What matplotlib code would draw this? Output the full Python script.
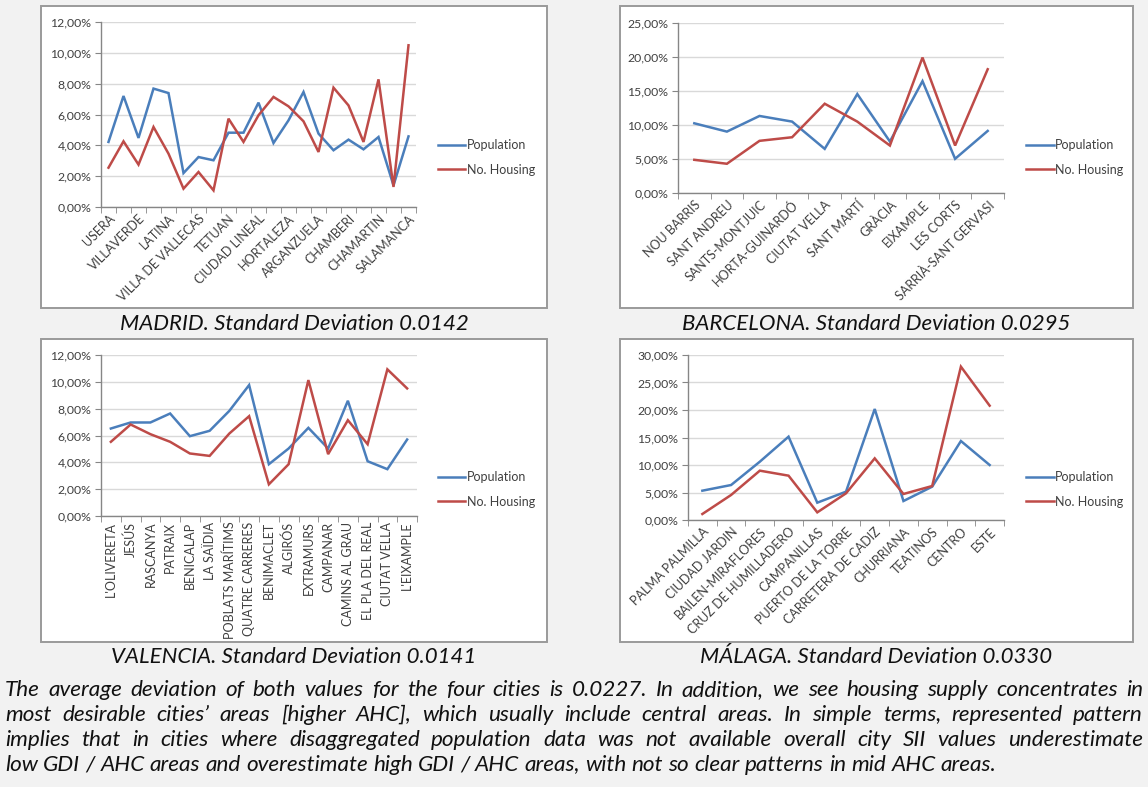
import matplotlib
matplotlib.use("Agg")
import matplotlib.pyplot as plt
from matplotlib.patches import Rectangle
from matplotlib.ticker import FuncFormatter, FixedLocator

W, H = 1148, 787
BG = '#f2f2f2'
BLUE = '#4a7ebb'
RED = '#be4b48'
TXT = '#404040'
AXC = '#868686'
GRID = '#d9d9d9'
FONT = ['Lato', 'DejaVu Sans']

# Madrid: 21 districts, only every other one is labelled on the axis
madrid_labels = ['USERA', 'VILLAVERDE', 'LATINA', 'VILLA DE VALLECAS', 'TETUAN',
                 'CIUDAD LINEAL', 'HORTALEZA', 'ARGANZUELA', 'CHAMBERI',
                 'CHAMARTIN', 'SALAMANCA']
madrid_pop = [4.22, 7.20, 4.48, 7.68, 7.39, 2.20, 3.24, 3.03, 4.82, 4.82, 6.77,
              4.15, 5.62, 7.46, 4.76, 3.68, 4.37, 3.74, 4.54, 1.40, 4.58]
madrid_housing = [2.55, 4.26, 2.75, 5.19, 3.46, 1.19, 2.27, 1.08, 5.73, 4.22, 5.95,
                  7.14, 6.53, 5.56, 3.57, 7.74, 6.59, 4.22, 8.28, 1.30, 10.49]

barcelona_labels = ['NOU BARRIS', 'SANT ANDREU', 'SANTS-MONTJUIC', 'HORTA-GUINARDÓ',
                    'CIUTAT VELLA', 'SANT MARTÍ', 'GRÀCIA', 'EIXAMPLE', 'LES CORTS',
                    'SARRIÀ-SANT GERVASI']
barcelona_pop = [10.25, 9.03, 11.33, 10.50, 6.49, 14.55, 7.57, 16.45, 5.03, 9.13]
barcelona_housing = [4.88, 4.30, 7.67, 8.20, 13.13, 10.50, 6.98, 19.92, 6.98, 18.20]

valencia_labels = ["L'OLIVERETA", 'JESÚS', 'RASCANYA', 'PATRAIX', 'BENICALAP',
                   'LA SAÏDIA', 'POBLATS MARÍTIMS', 'QUATRE CARRERES', 'BENIMACLET',
                   'ALGIRÓS', 'EXTRAMURS', 'CAMPANAR', 'CAMINS AL GRAU',
                   'EL PLA DEL REAL', 'CIUTAT VELLA', "L'EIXAMPLE"]
valencia_pop = [6.52, 6.97, 6.97, 7.64, 5.95, 6.35, 7.84, 9.76, 3.86, 5.03, 6.57,
                5.03, 8.59, 4.08, 3.49, 5.70]
valencia_housing = [5.53, 6.82, 6.10, 5.53, 4.66, 4.48, 6.15, 7.44, 2.36, 3.86, 10.13,
                    4.61, 7.14, 5.35, 10.93, 9.51]

malaga_labels = ['PALMA PALMILLA', 'CIUDAD JARDIN', 'BAILEN-MIRAFLORES',
                 'CRUZ DE HUMILLADERO', 'CAMPANILLAS', 'PUERTO DE LA TORRE',
                 'CARRETERA DE CADIZ', 'CHURRIANA', 'TEATINOS', 'CENTRO', 'ESTE']
malaga_pop = [5.33, 6.36, 10.60, 15.15, 3.15, 5.15, 20.18, 3.45, 6.06, 14.36, 10.00]
malaga_housing = [1.09, 4.55, 8.97, 8.06, 1.39, 4.85, 11.21, 4.73, 6.18, 27.88, 20.79]

captions = ['MADRID. Standard Deviation 0.0142', 'BARCELONA. Standard Deviation 0.0295',
            'VALENCIA. Standard Deviation 0.0141', 'MÁLAGA. Standard Deviation 0.0330']

paragraph = [
    "The average deviation of both values for the four cities is 0.0227. In addition, we see housing supply concentrates in",
    "most desirable cities’ areas [higher AHC], which usually include central areas. In simple terms, represented pattern",
    "implies that in cities where disaggregated population data was not available overall city SII values underestimate",
    "low GDI / AHC areas and overestimate high GDI / AHC areas, with not so clear patterns in mid AHC areas.",
]


def px_rect(x0, y0, x1, y1):
    # pixel box (top-left origin) -> figure fraction [left, bottom, width, height]
    return [x0 / W, 1 - y1 / H, (x1 - x0) / W, (y1 - y0) / H]


def pct(v, _):
    return f"{v:.2f}%".replace('.', ',')


def draw_panel(fig, rect, pop, housing, labels, label_idx, ymax, ystep, rot, legend_xy):
    ax = fig.add_axes(px_rect(*rect))
    ax.set_zorder(2)
    n = len(pop)
    xs = list(range(n))
    ax.plot(xs, pop, color=BLUE, lw=1.8, label='Population', solid_joinstyle='miter')
    ax.plot(xs, housing, color=RED, lw=1.8, label='No. Housing', solid_joinstyle='miter')

    ax.set_xlim(-0.5, n - 0.5)
    ax.set_ylim(0, ymax)
    ax.set_yticks([ystep * i for i in range(int(round(ymax / ystep)) + 1)])
    ax.yaxis.set_major_formatter(FuncFormatter(pct))
    ax.grid(axis='y', color=GRID, lw=1)
    ax.set_axisbelow(True)

    for s in ('top', 'right'):
        ax.spines[s].set_visible(False)
    for s in ('left', 'bottom'):
        ax.spines[s].set_color(AXC)
        ax.spines[s].set_linewidth(1)

    ax.set_xticks(label_idx)
    ax.xaxis.set_minor_locator(FixedLocator([i - 0.5 for i in range(n + 1)]))
    ax.tick_params(axis='x', which='major', length=0, pad=4)
    ax.tick_params(axis='x', which='minor', length=4, color=AXC, direction='out')
    ax.tick_params(axis='y', length=4, color=AXC, direction='out', pad=3,
                   labelsize=8.8, labelcolor=TXT)
    for t in ax.get_yticklabels():
        t.set_family(FONT)

    if rot == 90:
        ax.set_xticklabels(labels, rotation=90, ha='center', va='top',
                           fontsize=9, color=TXT, family=FONT)
    else:
        ax.set_xticklabels(labels, rotation=rot, ha='right', va='top',
                           rotation_mode='anchor', fontsize=9, color=TXT, family=FONT)

    lx, ly = legend_xy
    ax.legend(loc='upper left', bbox_to_anchor=(lx / W, 1 - ly / H),
              bbox_transform=fig.transFigure, frameon=False, borderpad=0,
              borderaxespad=0, handlelength=2.2, handletextpad=0.15,
              labelspacing=1.0, prop={'family': FONT, 'size': 9},
              labelcolor=TXT)
    return ax


def justify(fig, line, x0, x1, y, last=False, **kw):
    words = line.split(' ')
    renderer = fig.canvas.get_renderer()
    texts = [fig.text(0, 1 - y / H, w, va='center', ha='left', **kw) for w in words]
    widths = [t.get_window_extent(renderer).width for t in texts]
    probe = fig.text(0, 0, 'a b', **kw)
    sp = probe.get_window_extent(renderer).width
    probe.set_text('ab')
    sp -= probe.get_window_extent(renderer).width
    probe.remove()
    gap = sp if last else (x1 - x0 - sum(widths)) / (len(words) - 1)
    x = x0
    for t, w in zip(texts, widths):
        t.set_x(x / W)
        x += w + gap


fig = plt.figure(figsize=(W / 100, H / 100), dpi=100, facecolor=BG)

# white chart frames
frames = [(41, 6, 547, 308), (620, 6, 1133, 308), (41, 339, 547, 642), (620, 339, 1133, 642)]
for x0, y0, x1, y1 in frames:
    fig.patches.append(Rectangle((x0 / W, 1 - y1 / H), (x1 - x0) / W, (y1 - y0) / H,
                                 transform=fig.transFigure, facecolor='white',
                                 edgecolor='#9a9a9a', lw=1.4, zorder=-1))

draw_panel(fig, (101, 22, 416, 207), madrid_pop, madrid_housing, madrid_labels,
           list(range(0, len(madrid_pop), 2)), 12, 2, 45, (438, 139))
draw_panel(fig, (678, 23, 1004, 193), barcelona_pop, barcelona_housing, barcelona_labels,
           list(range(len(barcelona_pop))), 25, 5, 45, (1026, 139))
draw_panel(fig, (101, 355, 417, 516), valencia_pop, valencia_housing, valencia_labels,
           list(range(len(valencia_pop))), 12, 2, 90, (438, 471))
draw_panel(fig, (688, 355, 1004, 520), malaga_pop, malaga_housing, malaga_labels,
           list(range(len(malaga_pop))), 30, 5, 45, (1026, 471))

cap_pos = [(294, 324), (876, 324), (294, 657), (876, 657)]
for (cx, cy), cap in zip(cap_pos, captions):
    fig.text(cx / W, 1 - cy / H, cap, ha='center', va='center', style='italic',
             fontsize=16, color='#111111', family=FONT)

fig.canvas.draw()
for i, line in enumerate(paragraph):
    justify(fig, line, 5, 1143, 690 + 25 * i, last=(i == len(paragraph) - 1),
            style='italic', fontsize=16.2, color='#111111', family=FONT)

fig.savefig('out.png', dpi=100, facecolor=BG)
